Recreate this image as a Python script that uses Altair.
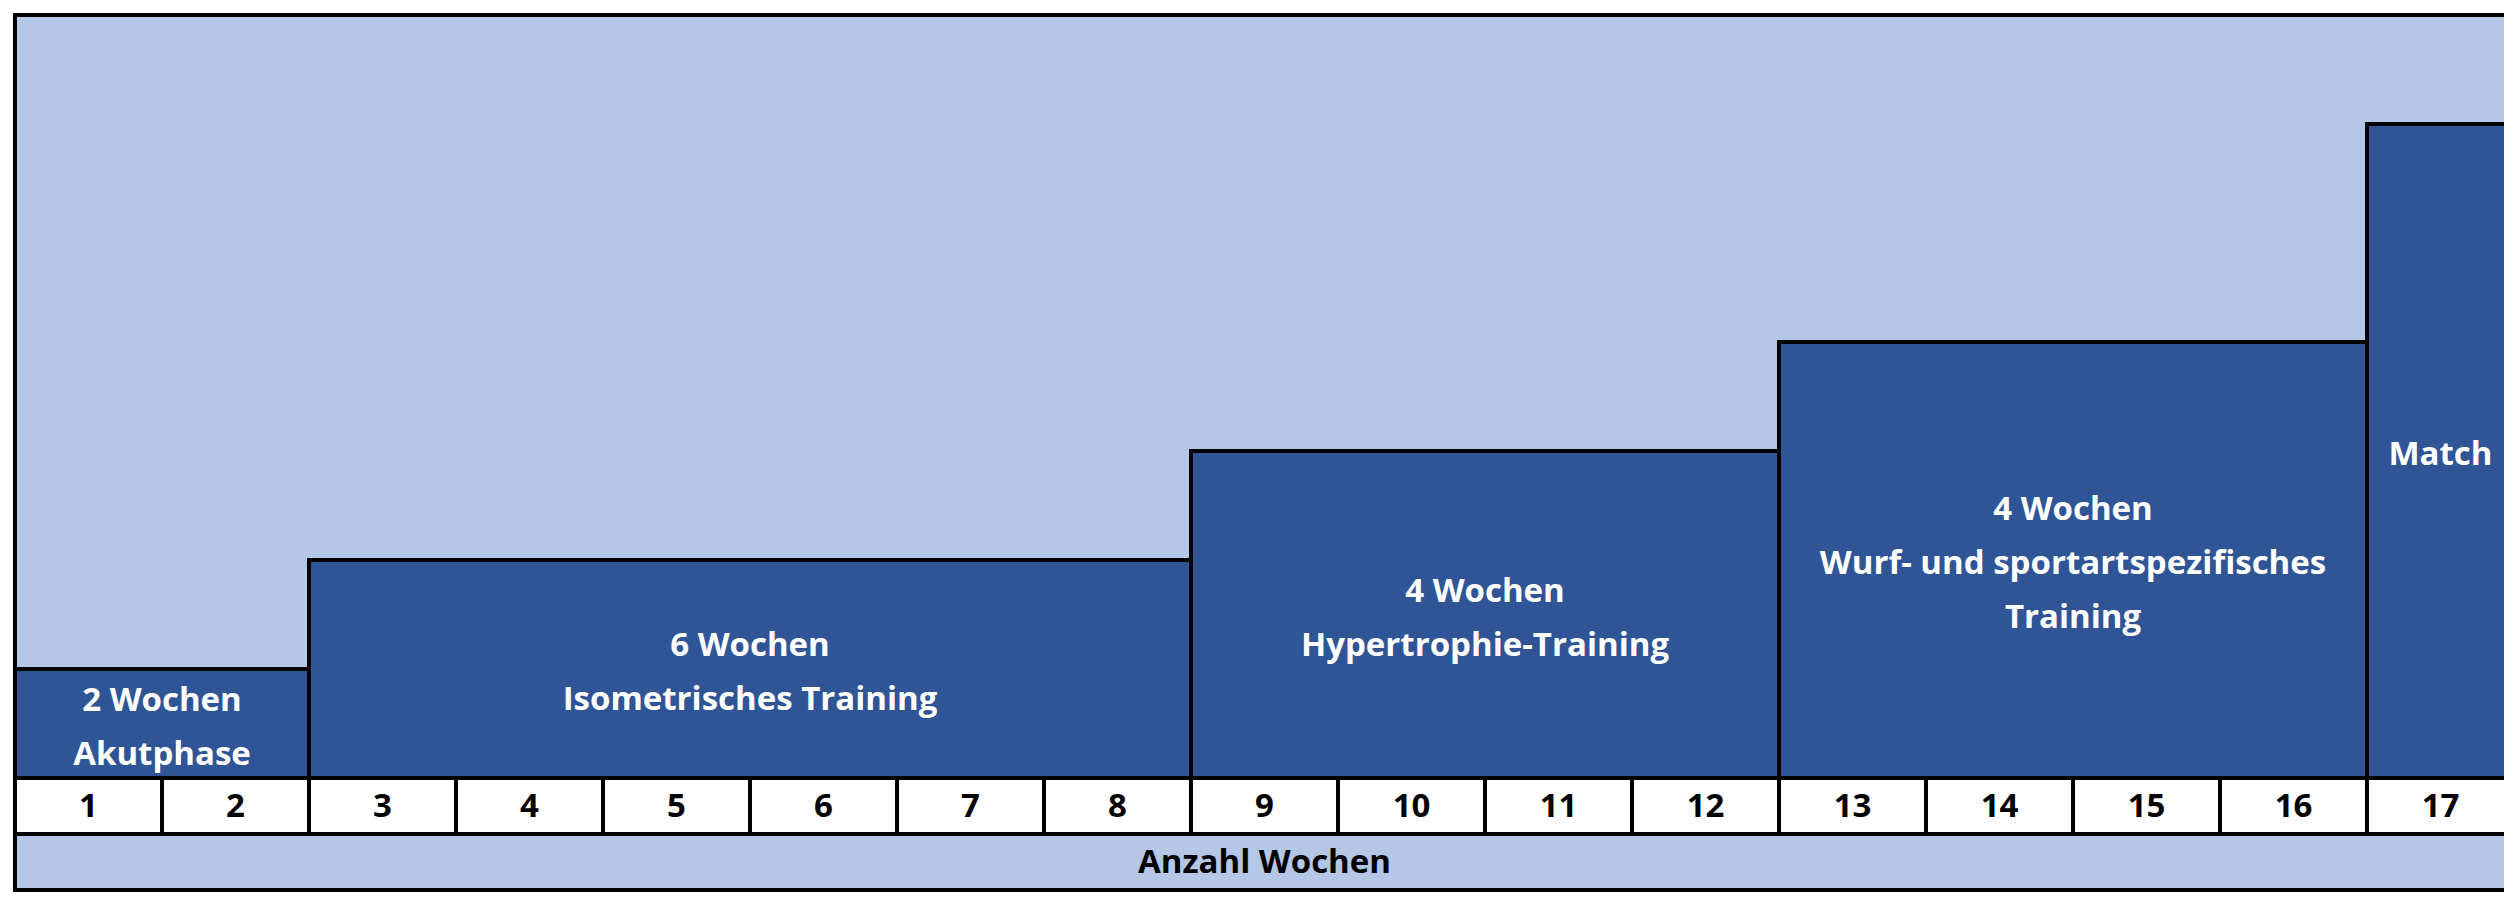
import altair as alt
import pandas as pd

# ---- data ----
phase_start = [0, 2, 8, 12, 16]
phase_end = [2, 8, 12, 16, 17]
phase_level = [1, 2, 3, 4, 6]
phase_label = [
    "2 Wochen\nAkutphase",
    "6 Wochen\nIsometrisches Training",
    "4 Wochen\nHypertrophie-Training",
    "4 Wochen\nWurf- und sportartspezifisches\nTraining",
    "Match",
]
weeks = list(range(1, 18))
axis_title = "Anzahl Wochen"
max_level = 7

# ---- style / layout ----
LIGHT = "#B4C7E7"
DARK = "#2F5597"
BORDER = 4
FONT = "Open Sans"
FS = 33

PX_WEEK = 147
PX_LEVEL = 109
LINE_PX = 54
W = 2491
H_TOP = 765
H_BOT = 114

x_lo = -2 / PX_WEEK
x_scale = alt.Scale(domain=[x_lo, x_lo + W / PX_WEEK], nice=False, zero=False)
y_top_scale = alt.Scale(domain=[0, max_level + 2 / PX_LEVEL], nice=False, zero=False)
y_bot_scale = alt.Scale(domain=[0, 2 + 2 / 56], nice=False, zero=False, reverse=True)

phases = pd.DataFrame({
    "start": phase_start, "end": phase_end,
    "level": phase_level, "label": phase_label,
})

# one row per text line of each phase label
rows = []
for s, e, lv, lab in zip(phase_start, phase_end, phase_level, phase_label):
    lines = lab.split("\n")
    n = len(lines)
    for i, ln in enumerate(lines):
        rows.append({"start": s, "end": e, "level": lv, "line": ln, "i": i, "n": n})
label_lines = pd.DataFrame(rows)

bg = pd.DataFrame({"x0": [0], "x1": [len(weeks)], "y0": [0], "y1": [max_level]})
week_df = pd.DataFrame({"week": weeks})
title_df = pd.DataFrame({"x0": [0], "x1": [len(weeks)], "label": [axis_title]})

X = lambda f: alt.X(f, scale=x_scale, axis=None)

background = alt.Chart(bg).mark_rect(
    fill=LIGHT, stroke="black", strokeWidth=BORDER, clip=True
).encode(
    x=X("x0:Q"), x2="x1:Q",
    y=alt.Y("y0:Q", scale=y_top_scale, axis=None), y2="y1:Q",
)

bars = alt.Chart(phases).mark_rect(
    fill=DARK, stroke="black", strokeWidth=BORDER, clip=True
).transform_calculate(base="0").encode(
    x=X("start:Q"), x2="end:Q",
    y=alt.Y("base:Q", scale=y_top_scale, axis=None), y2="level:Q",
)

lh = LINE_PX / PX_LEVEL
labels = alt.Chart(label_lines).mark_text(
    font=FONT, fontSize=FS, fontWeight="bold", color="white",
    baseline="middle", align="center", clip=True, dy=4,
).transform_calculate(
    xm="(datum.start + datum.end) / 2",
    ym=f"datum.level / 2 + ((datum.n - 1) / 2 - datum.i) * {lh}",
).encode(
    x=X("xm:Q"),
    y=alt.Y("ym:Q", scale=y_top_scale, axis=None),
    text="line:N",
)

top = alt.layer(background, bars, labels).properties(width=W, height=H_TOP)

week_cells = alt.Chart(week_df).mark_rect(
    fill="white", stroke="black", strokeWidth=BORDER, clip=True
).transform_calculate(
    x0="datum.week - 1", r0="0", r1="1"
).encode(
    x=X("x0:Q"), x2="week:Q",
    y=alt.Y("r0:Q", scale=y_bot_scale, axis=None), y2="r1:Q",
)

week_text = alt.Chart(week_df).mark_text(
    font=FONT, fontSize=FS, fontWeight="bold", color="black",
    baseline="middle", align="center", clip=True, dy=1,
).transform_calculate(
    xm="datum.week - 0.5", ym="0.5"
).encode(
    x=X("xm:Q"),
    y=alt.Y("ym:Q", scale=y_bot_scale, axis=None),
    text="week:N",
)

title_cell = alt.Chart(title_df).mark_rect(
    fill=LIGHT, stroke="black", strokeWidth=BORDER, clip=True
).transform_calculate(r0="1", r1="2").encode(
    x=X("x0:Q"), x2="x1:Q",
    y=alt.Y("r0:Q", scale=y_bot_scale, axis=None), y2="r1:Q",
)

title_text = alt.Chart(title_df).mark_text(
    font=FONT, fontSize=FS, fontWeight="bold", color="black",
    baseline="middle", align="center", clip=True, dy=1,
).transform_calculate(
    xm="(datum.x0 + datum.x1) / 2", ym="1.5"
).encode(
    x=X("xm:Q"),
    y=alt.Y("ym:Q", scale=y_bot_scale, axis=None),
    text="label:N",
)

bottom = alt.layer(week_cells, week_text, title_cell, title_text).properties(
    width=W, height=H_BOT
)

chart = alt.vconcat(top, bottom, spacing=0).properties(
    padding={"left": 13, "top": 13, "right": 0, "bottom": 6},
    background="white",
).configure_view(stroke=None).configure_concat(spacing=0)

chart.save("out.html", embed_options={"renderer": "svg", "actions": False})
